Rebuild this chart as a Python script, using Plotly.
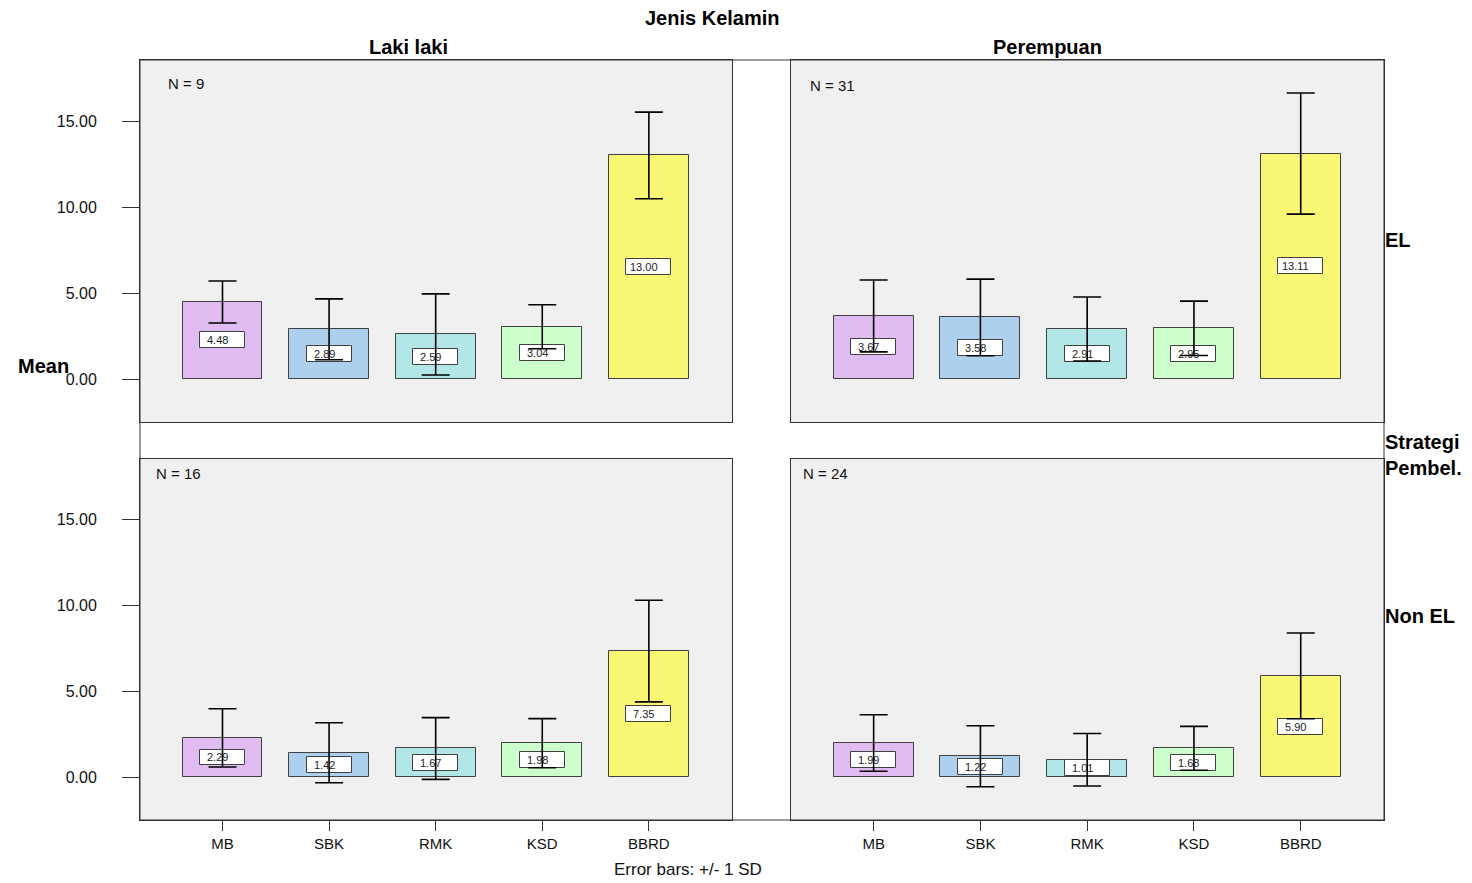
import plotly.graph_objects as go

# ---------------- data ----------------
categories = ["MB", "SBK", "RMK", "KSD", "BBRD"]
bar_colors = ["#DFBBF2", "#ADD0EE", "#B3E6E6", "#CCFFCC", "#FAF774"]

laki_el_mean = [4.48, 2.89, 2.59, 3.04, 13.00]
laki_el_sd = [1.22, 1.77, 2.36, 1.28, 2.52]
perempuan_el_mean = [3.67, 3.58, 2.91, 2.95, 13.11]
perempuan_el_sd = [2.09, 2.23, 1.86, 1.58, 3.52]
laki_nonel_mean = [2.29, 1.42, 1.67, 1.98, 7.35]
laki_nonel_sd = [1.70, 1.75, 1.80, 1.43, 2.96]
perempuan_nonel_mean = [1.99, 1.22, 1.01, 1.68, 5.90]
perempuan_nonel_sd = [1.65, 1.78, 1.53, 1.28, 2.50]

n_labels = ["N = 9", "N = 31", "N = 16", "N = 24"]
col_labels = ["Laki laki", "Perempuan"]
row_labels = ["EL", "Strategi<br>Pembel.", "Non EL"]
y_tickvals = [0, 5, 10, 15]
y_ticktext = ["0.00", "5.00", "10.00", "15.00"]

# ---------------- layout geometry (pixels) ----------------
W, H = 1472, 883
FONT = "Arial, Liberation Sans, sans-serif"

def px(x):
    return x / W

def py(y):
    return 1 - y / H

panels = [
    dict(mean=laki_el_mean, sd=laki_el_sd, box=(140, 732, 60, 422), left=True, bottom=False,
         n=n_labels[0], npos=(166, 83)),
    dict(mean=perempuan_el_mean, sd=perempuan_el_sd, box=(791, 1384, 60, 422), left=False, bottom=False,
         n=n_labels[1], npos=(808, 86)),
    dict(mean=laki_nonel_mean, sd=laki_nonel_sd, box=(140, 732, 459, 820), left=True, bottom=True,
         n=n_labels[2], npos=(154, 473)),
    dict(mean=perempuan_nonel_mean, sd=perempuan_nonel_sd, box=(791, 1384, 459, 820), left=False, bottom=True,
         n=n_labels[3], npos=(801, 473)),
]

YRANGE = [-2.5, 18.55]
XRANGE = [-0.774, 4.78]
PX_PER_UNIT = (379 - 121) / 15.0
BOX_H = 16 / PX_PER_UNIT
BOX_W = 45 / 106.6

fig = go.Figure()
annotations = []
layout_axes = {}

for i, p in enumerate(panels, start=1):
    xa = "x" if i == 1 else f"x{i}"
    ya = "y" if i == 1 else f"y{i}"
    mean, sd = p["mean"], p["sd"]
    # colored bars
    fig.add_trace(go.Bar(
        x=categories, y=mean, xaxis=xa, yaxis=ya, width=0.75,
        marker=dict(color=bar_colors, line=dict(color="#404040", width=1)),
        showlegend=False, hoverinfo="skip"))
    # white value-label boxes centred at half the bar height
    fig.add_trace(go.Bar(
        x=categories, y=[BOX_H] * len(mean), base=[m / 2 - BOX_H / 2 for m in mean],
        xaxis=xa, yaxis=ya, width=BOX_W,
        marker=dict(color="white", line=dict(color="#404040", width=1)),
        showlegend=False, hoverinfo="skip"))
    # error bars (+/- 1 SD)
    fig.add_trace(go.Scatter(
        x=categories, y=mean, xaxis=xa, yaxis=ya, mode="markers",
        marker=dict(size=1, color="rgba(0,0,0,0)"),
        error_y=dict(type="data", array=sd, visible=True, color="black", thickness=1.6, width=14),
        showlegend=False, hoverinfo="skip"))
    # value text
    for c, m in zip(categories, mean):
        annotations.append(dict(
            x=c, y=m / 2, xref=xa, yref=ya, text=f"{m:.2f}", showarrow=False,
            xshift=-5, font=dict(family=FONT, size=11, color="#222")))

    x0, x1, yt, yb = p["box"]
    xkey = "xaxis" if i == 1 else f"xaxis{i}"
    ykey = "yaxis" if i == 1 else f"yaxis{i}"
    layout_axes[xkey] = dict(
        domain=[px(x0), px(x1)], anchor=ya, type="category", range=XRANGE,
        showline=True, mirror=True, linecolor="#333", linewidth=1,
        showgrid=False, zeroline=False,
        ticks="outside" if p["bottom"] else "", ticklen=10, tickcolor="#333",
        showticklabels=p["bottom"], tickfont=dict(family=FONT, size=15, color="#111"),
        fixedrange=True)
    layout_axes[ykey] = dict(
        domain=[py(yb), py(yt)], anchor=xa, range=YRANGE,
        tickvals=y_tickvals, ticktext=y_ticktext,
        showline=True, mirror=True, linecolor="#333", linewidth=1,
        showgrid=False, zeroline=False,
        ticks="outside" if p["left"] else "", ticklen=17, tickcolor="#333",
        showticklabels=p["left"], ticklabelstandoff=22,
        tickfont=dict(family=FONT, size=16, color="#111"),
        fixedrange=True)
    annotations.append(dict(
        x=px(p["npos"][0]), y=py(p["npos"][1]), xref="paper", yref="paper",
        text=p["n"], showarrow=False, xanchor="left", yanchor="middle",
        font=dict(family=FONT, size=15, color="#111")))

annotations += [
    dict(x=px(712), y=py(18), text="<b>Jenis Kelamin</b>", xref="paper", yref="paper",
         showarrow=False, xanchor="center", yanchor="middle", font=dict(family=FONT, size=20, color="black")),
    dict(x=px(408), y=py(47), text=f"<b>{col_labels[0]}</b>", xref="paper", yref="paper",
         showarrow=False, xanchor="center", yanchor="middle", font=dict(family=FONT, size=20, color="black")),
    dict(x=px(1047), y=py(47), text=f"<b>{col_labels[1]}</b>", xref="paper", yref="paper",
         showarrow=False, xanchor="center", yanchor="middle", font=dict(family=FONT, size=20, color="black")),
    dict(x=px(16), y=py(366), text="<b>Mean</b>", xref="paper", yref="paper",
         showarrow=False, xanchor="left", yanchor="middle", font=dict(family=FONT, size=20, color="black")),
    dict(x=px(1383), y=py(240), text=f"<b>{row_labels[0]}</b>", xref="paper", yref="paper",
         showarrow=False, xanchor="left", yanchor="middle", font=dict(family=FONT, size=20, color="black")),
    dict(x=px(1383), y=py(455), text=f"<b>{row_labels[1]}</b>", xref="paper", yref="paper",
         showarrow=False, xanchor="left", yanchor="middle", align="left",
         font=dict(family=FONT, size=20, color="black")),
    dict(x=px(1383), y=py(616), text=f"<b>{row_labels[2]}</b>", xref="paper", yref="paper",
         showarrow=False, xanchor="left", yanchor="middle", font=dict(family=FONT, size=20, color="black")),
    dict(x=px(688), y=py(869), text="Error bars: +/- 1 SD", xref="paper", yref="paper",
         showarrow=False, xanchor="center", yanchor="middle", font=dict(family=FONT, size=17, color="#111")),
]

shapes = [
    dict(type="rect", xref="paper", yref="paper", x0=px(140), x1=px(1384), y0=py(820), y1=py(60),
         line=dict(color="#333", width=1), fillcolor="rgba(0,0,0,0)", layer="above"),
]

fig.update_layout(
    width=W, height=H, margin=dict(l=0, r=0, t=0, b=0),
    paper_bgcolor="white", plot_bgcolor="#F0F0F0",
    barmode="overlay", bargap=0,
    annotations=annotations, shapes=shapes,
    font=dict(family=FONT),
    **layout_axes,
)

fig.write_html("out.html", config={"displayModeBar": False},
               post_script="document.body.style.margin='0';document.body.style.overflow='hidden';")
